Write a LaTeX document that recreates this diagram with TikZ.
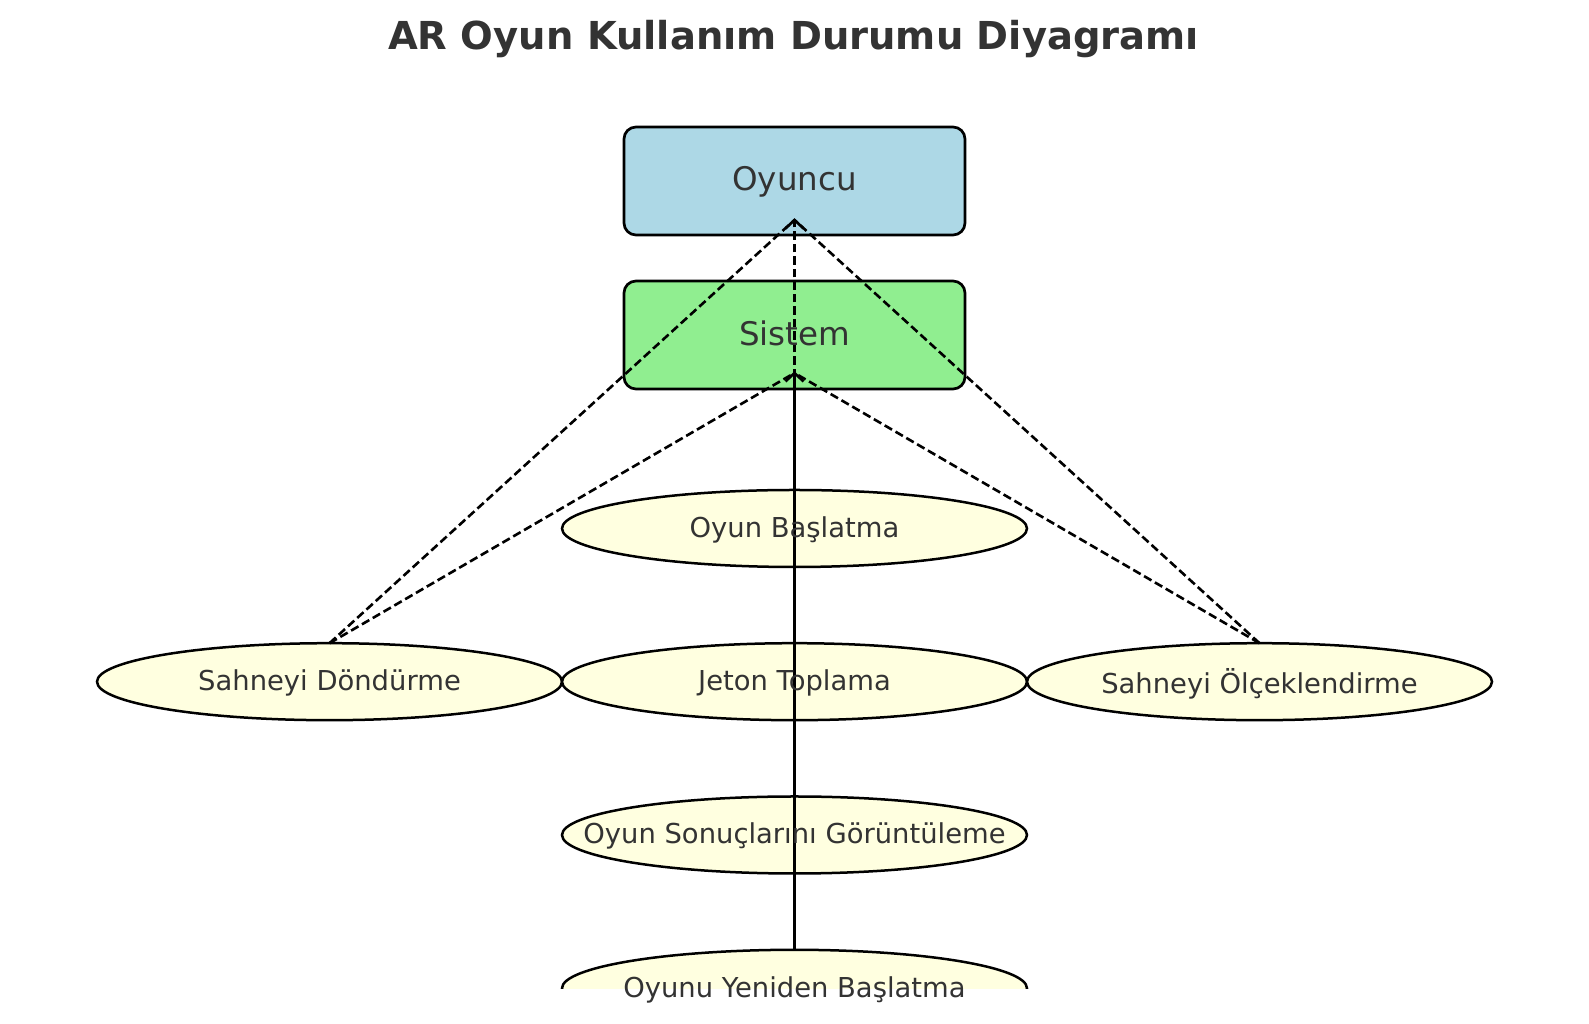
\documentclass[tikz,border=0pt]{standalone}
\usepackage{fontspec}
\setmainfont{DejaVu Sans}
\usetikzlibrary{arrows.meta,shapes.geometric}
\definecolor{txt}{HTML}{333333}
\definecolor{actorblue}{HTML}{ADD8E6}
\definecolor{sysgreen}{HTML}{90EE90}
\definecolor{ucyellow}{HTML}{FFFFE0}
\tikzset{
  boxnode/.style={draw=black, line width=2.7pt, rounded corners=12pt, minimum width=341pt, minimum height=108pt, inner sep=0pt, outer sep=0pt},
  ucnode/.style={ellipse, draw=black, fill=ucyellow, line width=2.5pt, minimum width=465pt, minimum height=77pt, inner sep=0pt, outer sep=0pt},
  boxlbl/.style={anchor=base, text=txt, font=\fontsize{32.5}{39}\selectfont, inner sep=0pt},
  uclbl/.style={anchor=base, text=txt, font=\fontsize{27.4}{33}\selectfont, inner sep=0pt},
  conn/.style={line width=2.6pt},
  dashconn/.style={conn, dash pattern=on 8.5pt off 4pt},
  chevron/.style={line width=2.6pt, line join=miter}
}
\begin{document}
\begin{tikzpicture}[x=1pt,y=1pt]
\path[use as bounding box, fill=white] (0,0) rectangle (1589,1024);

% title
\node[anchor=base, text=txt, font=\bfseries\fontsize{38.5}{46}\selectfont, inner sep=0pt] (title) at (793.5,974) {AR Oyun Kullanım Durumu Diyagramı};

% actor boxes
\node[boxnode, fill=actorblue] (oyuncu) at (794.5,843) {};
\node[boxnode, fill=sysgreen] (sistem) at (794.5,689) {};
\coordinate (oyT) at (794.5,804);
\coordinate (siT) at (794.5,651);

% use cases
\node[ucnode] (basla) at (794.5,495.5) {};
\node[ucnode] (dondur) at (329.5,342.3) {};
\node[ucnode] (jeton) at (794.5,342.3) {};
\node[ucnode] (olcek) at (1259.5,342.3) {};
\node[ucnode] (sonuc) at (794.5,189) {};
\begin{scope}
  \clip (0,35.7) rectangle (1589,1024);
  \node[ucnode] (yeniden) at (794.5,35.7) {};
\end{scope}

% connectors
\draw[dashconn] (dondur.north) -- (oyT);
\draw[dashconn] (olcek.north) -- (oyT);
\draw[dashconn] (dondur.north) -- (siT);
\draw[dashconn] (olcek.north) -- (siT);
\draw[dashconn] (basla.north) -- (oyT);
\draw[conn] (basla.north) -- (siT);
\draw[conn] (jeton.north) -- (siT);
\draw[conn] (sonuc.north) -- (siT);
\draw[conn] (yeniden.north) -- (siT);
% arrow heads
\draw[chevron] ([shift={(-9,-8.5)}]oyT) -- (oyT) -- ([shift={(9,-8.5)}]oyT);
\draw[chevron] ([shift={(-9,-8.5)}]siT) -- (siT) -- ([shift={(9,-8.5)}]siT);

% labels
\node[boxlbl] (oyunculbl) at (794.5,833) {Oyuncu};
\node[boxlbl] (sistemlbl) at (794.5,678) {Sistem};
\node[uclbl] (baslalbl) at (794.5,486) {Oyun Başlatma};
\node[uclbl] (dondurlbl) at (329.5,333) {Sahneyi Döndürme};
\node[uclbl] (jetonlbl) at (794.5,333) {Jeton Toplama};
\node[uclbl] (olceklbl) at (1259.5,330.5) {Sahneyi Ölçeklendirme};
\node[uclbl] (sonuclbl) at (794.5,180) {Oyun Sonuçlarını Görüntüleme};
\node[uclbl] (yenidenlbl) at (794.5,26) {Oyunu Yeniden Başlatma};
\end{tikzpicture}
\end{document}
